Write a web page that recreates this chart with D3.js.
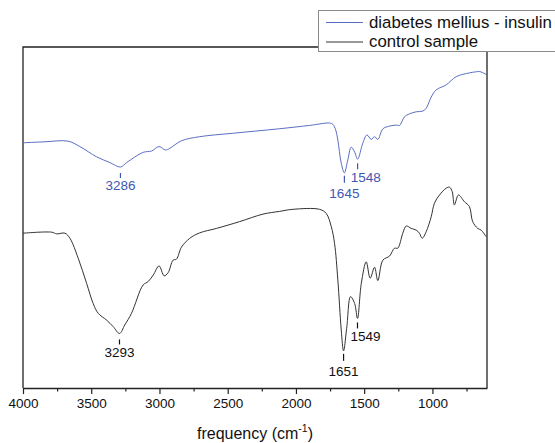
<!DOCTYPE html>
<html>
<head>
<meta charset="utf-8">
<script src="https://cdn.jsdelivr.net/npm/d3@7"></script>
<style>
  html, body { margin: 0; padding: 0; background: #fff; }
  svg { display: block; font-family: "Liberation Sans", Arial, sans-serif; }
</style>
</head>
<body>
<svg id="chart" width="555" height="443"></svg>
<script>
// FTIR spectra: wavenumber (cm^-1) and offset transmittance (a.u.)
const insulinWavenumber = [4000, 3839, 3671, 3583, 3461, 3363, 3285, 3241, 3120, 3058, 3003, 2956, 2924, 2839, 2705, 2463, 2127, 1900, 1753, 1729, 1709, 1693, 1668, 1645, 1620, 1595, 1570, 1548, 1510, 1480, 1448, 1424, 1400, 1363, 1314, 1265, 1241, 1205, 1168, 1119, 1071, 1046, 1009, 973, 899, 826, 729, 685, 656, 632, 604];
const insulinValue = [71.9, 72.2, 72.4, 70.8, 67.8, 66.1, 64.8, 66.1, 69.1, 69.5, 70.8, 69.8, 70.3, 72.5, 73.7, 74.7, 76.0, 77.0, 77.7, 77.3, 75.7, 72.7, 65.9, 63.1, 66.9, 70.6, 69.2, 67.1, 71.8, 74.2, 72.9, 73.7, 72.9, 76.0, 76.8, 77.1, 77.0, 79.5, 80.4, 81.0, 81.2, 82.0, 85.3, 87.4, 88.9, 91.3, 92.4, 92.7, 92.8, 92.5, 91.9];

const controlWavenumber = [4000, 3790, 3753, 3693, 3656, 3595, 3534, 3486, 3449, 3387, 3339, 3293, 3254, 3205, 3120, 3083, 3046, 3003, 2966, 2937, 2900, 2875, 2839, 2778, 2705, 2582, 2412, 2241, 2119, 2022, 1827, 1778, 1741, 1717, 1693, 1668, 1651, 1627, 1600, 1570, 1549, 1521, 1485, 1456, 1424, 1400, 1363, 1314, 1278, 1254, 1217, 1192, 1155, 1119, 1095, 1075, 1046, 1009, 985, 948, 899, 875, 855, 839, 809, 765, 729, 705, 668, 643, 607];
const controlValue = [45.4, 45.7, 45.2, 45.4, 43.9, 38.0, 30.7, 24.8, 21.9, 19.9, 18.0, 16.0, 18.5, 21.9, 30.2, 31.2, 33.1, 35.8, 32.9, 33.8, 37.5, 37.8, 41.3, 43.9, 45.5, 46.8, 48.8, 51.0, 51.8, 52.4, 52.4, 51.2, 47.3, 42.4, 31.7, 17.0, 10.9, 18.0, 26.8, 24.8, 20.4, 30.7, 37.0, 32.2, 35.4, 31.5, 37.5, 38.7, 41.0, 41.0, 45.4, 47.5, 46.8, 46.3, 45.4, 43.9, 45.8, 50.2, 54.2, 56.6, 58.6, 58.9, 57.6, 53.7, 56.6, 54.6, 53.2, 48.8, 46.8, 46.3, 44.4];

const insulinPeaks = [3286, 1645, 1548];
const controlPeaks = [3293, 1651, 1549];

const seriesNames = ["diabetes mellius - insulin", "control sample"];
const xTickValues = [4000, 3500, 3000, 2500, 2000, 1500, 1000];
const xMinorTickValues = [3750, 3250, 2750, 2250, 1750, 1250, 750];

const blue = "#5a6fc4";
const blueText = "#3f57b3";
const dark = "#333333";

const svg = d3.select("#chart");
const plot = { left: 23, right: 487, top: 47, bottom: 388 };

const x = d3.scaleLinear().domain([4000, 600]).range([plot.left, plot.right]);
const y = d3.scaleLinear().domain([0, 100]).range([plot.bottom, plot.top]);

const toPoints = (wn, val) => wn.map((w, i) => [w, val[i]]);
const insulin = toPoints(insulinWavenumber, insulinValue);
const control = toPoints(controlWavenumber, controlValue);

const line = d3.line()
  .x(d => x(d[0]))
  .y(d => y(d[1]))
  .curve(d3.curveCatmullRom.alpha(0.5));

// frame: left, top, right
svg.append("path")
  .attr("d", `M${plot.left},${plot.bottom}V${plot.top}H${plot.right}V${plot.bottom}`)
  .attr("fill", "none")
  .attr("stroke", "#222")
  .attr("stroke-width", 1.3);

// spectra
svg.append("path").datum(insulin)
  .attr("d", line).attr("fill", "none")
  .attr("stroke", blue).attr("stroke-width", 1);
svg.append("path").datum(control)
  .attr("d", line).attr("fill", "none")
  .attr("stroke", dark).attr("stroke-width", 1);

// bottom axis with major and minor ticks
const axis = svg.append("g").attr("transform", `translate(0,${plot.bottom})`)
  .call(d3.axisBottom(x).tickValues(xTickValues).tickFormat(d3.format("d"))
    .tickSizeInner(6).tickSizeOuter(0).tickPadding(4));
axis.select(".domain").attr("stroke", "#222").attr("stroke-width", 1.3);
axis.selectAll(".tick line").attr("stroke", "#222").attr("stroke-width", 1.2);
axis.selectAll(".tick text")
  .attr("font-family", "Liberation Sans, Arial, sans-serif")
  .attr("font-size", 13.5).attr("fill", "#111");

const minor = svg.append("g").attr("transform", `translate(0,${plot.bottom})`)
  .call(d3.axisBottom(x).tickValues(xMinorTickValues).tickFormat("")
    .tickSizeInner(3.5).tickSizeOuter(0));
minor.select(".domain").remove();
minor.selectAll(".tick line").attr("stroke", "#222").attr("stroke-width", 1.2);

// axis title with superscript
const title = svg.append("text")
  .attr("x", (plot.left + plot.right) / 2).attr("y", 439)
  .attr("text-anchor", "middle")
  .attr("font-size", 16).attr("fill", "#111");
title.append("tspan").text("frequency (cm");
title.append("tspan").attr("font-size", 10.5).attr("dy", -7).text("-1");
title.append("tspan").attr("dy", 7).text(")");

// value of a spectrum at a given wavenumber (linear interpolation)
function valueAt(points, wn) {
  for (let i = 0; i < points.length - 1; i++) {
    const a = points[i], b = points[i + 1];
    if (wn <= a[0] && wn >= b[0]) {
      const t = (a[0] - wn) / (a[0] - b[0]);
      return a[1] + t * (b[1] - a[1]);
    }
  }
  return points[points.length - 1][1];
}

// peak annotations: tick under the band, label below or beside
const peakLayout = [
  { gap: 6, len: 5, textDy: 18.7, dx: 0, anchor: "middle" },
  { gap: 3, len: 7, textDy: 20.6, dx: 0, anchor: "middle" },
  { gap: 4, len: 6, textDy: 18, dx: -7, anchor: "start" }
];

function annotate(points, peaks, color) {
  peaks.forEach((wn, i) => {
    const L = peakLayout[i];
    const px = x(wn);
    const py = y(valueAt(points, wn));
    svg.append("line")
      .attr("x1", px).attr("x2", px)
      .attr("y1", py + L.gap).attr("y2", py + L.gap + L.len)
      .attr("stroke", color).attr("stroke-width", 1.2);
    svg.append("text")
      .attr("x", px + L.dx).attr("y", py + L.textDy)
      .attr("dy", "0.35em")
      .attr("text-anchor", L.anchor)
      .attr("font-size", 13.5).attr("fill", color)
      .text(String(wn));
  });
}
annotate(insulin, insulinPeaks, blueText);
annotate(control, controlPeaks, "#111");

// legend
const legend = svg.append("g");
legend.append("rect")
  .attr("x", 318.5).attr("y", 10.5).attr("width", 250).attr("height", 41)
  .attr("fill", "#fff").attr("stroke", "#8a8a8a").attr("stroke-width", 1);
const legendColors = [blue, dark];
seriesNames.forEach((name, i) => {
  const cy = 22.5 + i * 19.5;
  legend.append("line")
    .attr("x1", 326).attr("x2", 363).attr("y1", cy).attr("y2", cy)
    .attr("stroke", legendColors[i]).attr("stroke-width", 1);
  legend.append("text")
    .attr("x", 369).attr("y", cy + 5)
    .attr("font-size", 16.8).attr("fill", "#111")
    .text(name);
});
</script>
</body>
</html>
